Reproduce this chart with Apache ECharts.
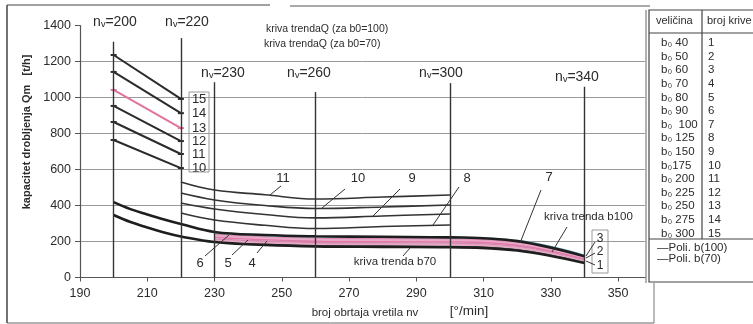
<!DOCTYPE html>
<html>
<head>
<meta charset="utf-8">
<script src="https://cdn.jsdelivr.net/npm/echarts@6/dist/echarts.min.js"></script>
<style>
  html, body { margin: 0; padding: 0; background: #fff; }
  #chart { width: 753px; height: 324px; }
</style>
</head>
<body>
<div id="chart"></div>
<script>
// --- data ---
const nvLeft = [200, 220]
const q15 = [1236, 992]
const q14 = [1142, 913]
const q13 = [1042, 830]
const q12 = [953, 758]
const q11a = [864, 686]
const q10a = [764, 608]

const nvMid = [220, 230, 245, 260, 280, 300]
const q11 = [531, 486, 460, 436, 447, 458]
const q10 = [469, 431, 400, 383, 392, 403]
const q9 = [414, 381, 350, 331, 342, 353]
const q8 = [358, 319, 290, 272, 283, 292]

const nvTrend = [200, 205, 210, 215, 220, 230, 245, 260, 280, 300, 320, 340]
const trendB100 = [419, 380, 350, 322, 297, 253, 236, 229, 226, 223, 202, 118]
const trendB70 = [347, 308, 278, 250, 228, 197, 181, 173, 170, 168, 150, 80]

const nvBand = [230, 260, 300, 320, 340]
const q7 = [248, 226, 222, 205, 124]
const q6 = [240, 219, 215, 197, 117]
const q5 = [232, 211, 207, 189, 111]
const q4 = [223, 203, 199, 181, 105]
const q3 = [214, 195, 191, 173, 99]
const q2 = [206, 187, 183, 165, 92]
const q1 = [198, 179, 175, 157, 86]

const nvLines = [200, 220, 230, 260, 300, 340]
const nvLineTop = [1310, 1330, 1085, 1030, 1080, 1060]

const tableB = ['b₀ 40', 'b₀ 50', 'b₀ 60', 'b₀ 70', 'b₀ 80', 'b₀ 90', 'b₀  100', 'b₀ 125',
  'b₀ 150', 'b₀175', 'b₀ 200', 'b₀ 225', 'b₀ 250', 'b₀ 275', 'b₀ 300']
const tableCurve = ['1', '2', '3', '4', '5', '6', '7', '8', '9', '10', '11', '12', '13', '14', '15']

const FONT = 'Liberation Sans, Arial, DejaVu Sans, sans-serif'
const INK = '#2b2b2b'

const pairs = (xs, ys) => xs.map((x, i) => [x, ys[i]])

const line = (xs, ys, color, width, extra) => Object.assign({
  type: 'line',
  data: pairs(xs, ys),
  smooth: 0.4,
  showSymbol: false,
  lineStyle: { color: color, width: width },
  itemStyle: { color: color },
  z: 3
}, extra || {})

const endTag = (txt) => ({
  showSymbol: true,
  symbol: 'rect',
  symbolSize: [6, 2],
  smooth: false,
  endLabel: { show: true, formatter: txt, color: INK, fontFamily: FONT, fontSize: 13, distance: 11 }
})

const series = [
  line(nvLeft, q15, INK, 2, endTag('15')),
  line(nvLeft, q14, INK, 2, endTag('14')),
  line(nvLeft, q13, '#e0739f', 2, endTag('13')),
  line(nvLeft, q12, INK, 2, endTag('12')),
  line(nvLeft, q11a, INK, 2, endTag('11')),
  line(nvLeft, q10a, INK, 2, endTag('10')),
  line(nvMid, q11, '#333', 1.6),
  line(nvMid, q10, '#333', 1.6),
  line(nvMid, q9, '#333', 1.6),
  line(nvMid, q8, '#333', 1.6),
  line(nvBand, q1, '#666', 1.3),
  line(nvBand, q2, '#e8a6c4', 2),
  line(nvBand, q3, '#d08cb0', 1.5),
  line(nvBand, q4, '#e27aa8', 2),
  line(nvBand, q5, '#eaa9c8', 2),
  line(nvBand, q6, '#d98cb3', 1.5),
  line(nvBand, q7, '#86c5da', 1.6),
  line(nvTrend, trendB100, '#1e1e1e', 2.6),
  line(nvTrend, trendB70, '#1e1e1e', 2.6),
  {
    type: 'line',
    data: [],
    markLine: {
      silent: true,
      symbol: 'none',
      label: { show: false },
      lineStyle: { color: '#333', width: 1.4, type: 'solid' },
      data: nvLines.map((nv, i) => [{ coord: [nv, 0] }, { coord: [nv, nvLineTop[i]] }])
    }
  }
]

const txt = (x, y, text, size, extra) => ({
  type: 'text', x: x, y: y, z: 10,
  style: Object.assign({ text: text, fill: INK, font: size + 'px ' + FONT, align: 'center', verticalAlign: 'middle' }, extra || {})
})
const seg = (x1, y1, x2, y2, color, w) => ({
  type: 'line', z: 10, shape: { x1: x1, y1: y1, x2: x2, y2: y2 },
  style: { stroke: color || '#333', lineWidth: w || 1 }
})

const graphics = [
  // outer frame
  seg(7, 5, 7, 323, '#444', 1.5),
  seg(7, 5, 270, 5, '#444', 1.2),
  seg(290, 6, 650, 6, '#555', 1),
  seg(7, 323, 654, 323, '#666', 1),
  seg(654, 283, 654, 323, '#777', 1),
  // nv labels
  txt(115, 22, 'nᵥ=200', 14),
  txt(187, 22, 'nᵥ=220', 14),
  txt(223, 73, 'nᵥ=230', 14),
  txt(309, 73, 'nᵥ=260', 14),
  txt(441, 73, 'nᵥ=300', 14),
  txt(577, 77, 'nᵥ=340', 14),
  // trend legend
  txt(266, 29, 'kriva trendaQ (za b0=100)', 10.5, { align: 'left' }),
  txt(264, 44, 'kriva trendaQ (za b0=70)', 10.5, { align: 'left' }),
  // axis names
  {
    type: 'text', x: 27, y: 132, rotation: Math.PI / 2, z: 10,
    style: { text: 'kapacitet drobljenja Qm   [t/h]', fill: INK, font: 'bold 11px ' + FONT, align: 'center', verticalAlign: 'middle' }
  },
  txt(365, 313, 'broj obrtaja vretila nv', 11.5),
  txt(469, 311, '[°/min]', 13.5),
  // box around 10-15
  { type: 'rect', z: 9, shape: { x: 189, y: 92, width: 20, height: 80 }, style: { fill: 'none', stroke: '#999', lineWidth: 1 } },
  // curve labels + leaders
  txt(283, 178, '11', 13), seg(270, 195, 281, 186),
  txt(358, 178, '10', 13), seg(322, 208, 345, 189),
  txt(412, 178, '9', 13), seg(372, 217, 400, 189),
  txt(467, 178, '8', 13), seg(433, 225, 459, 187),
  txt(549, 177, '7', 13), seg(520, 243, 541, 190),
  txt(544, 217, 'kriva trenda b100', 11.5, { align: 'left' }), seg(552, 252, 567, 227),
  txt(395, 262, 'kriva trenda b70', 11.5), seg(410, 248, 403, 256),
  txt(200, 263, '6', 13), seg(205, 256, 229, 235),
  txt(228, 263, '5', 13), seg(232, 255, 248, 240),
  txt(252, 263, '4', 13), seg(257, 253, 267, 241),
  { type: 'rect', z: 9, shape: { x: 592, y: 230, width: 16, height: 43 }, style: { fill: 'none', stroke: '#999', lineWidth: 1 } },
  txt(600, 239, '3', 12), seg(586, 256, 595, 242),
  txt(600, 252, '2', 12), seg(586, 258, 595, 253),
  txt(600, 266, '1', 12), seg(586, 261, 595, 265),
  // table
  { type: 'rect', z: 9, shape: { x: 649, y: 10, width: 120, height: 272 }, style: { fill: '#fff', stroke: '#444', lineWidth: 1.2 } },
  seg(646, 10, 646, 283, '#666', 1),
  seg(649, 33, 760, 33, '#444', 1.2),
  seg(702, 10, 702, 239, '#444', 1.2),
  seg(649, 239, 760, 239, '#444', 1.2),
  txt(656, 21, 'veličina', 11, { align: 'left' }),
  txt(707, 21, 'broj krive', 11, { align: 'left' })
]
tableB.forEach((b, i) => {
  const y = 43 + i * 13.6
  graphics.push(txt(661, y, b, 11.5, { align: 'left' }))
  graphics.push(txt(708, y, tableCurve[i], 11.5, { align: 'left' }))
})
graphics.push(txt(657, 248, '—Poli. b(100)', 11.5, { align: 'left' }))
graphics.push(txt(657, 259, '—Poli. b(70)', 11.5, { align: 'left' }))

const chart = echarts.init(document.getElementById('chart'), null, { renderer: 'canvas' })
chart.setOption({
  animation: false,
  backgroundColor: '#fff',
  textStyle: { fontFamily: FONT },
  grid: { left: 80, right: 108, top: 25.5, bottom: 46.5, containLabel: false },
  xAxis: {
    type: 'value',
    min: 190,
    max: 358,
    interval: 20,
    axisLine: { lineStyle: { color: '#555', width: 1.2 } },
    axisTick: { length: 4, lineStyle: { color: '#555' } },
    axisLabel: {
      color: INK, fontSize: 12.5, margin: 10, showMaxLabel: false,
      formatter: (v) => ((v - 190) % 20 === 0 && v <= 350 ? String(v) : '')
    },
    splitLine: { show: false }
  },
  yAxis: {
    type: 'value',
    min: 0,
    max: 1400,
    interval: 200,
    axisLine: { show: true, lineStyle: { color: '#555', width: 1.2 } },
    axisTick: { show: true, length: 5, lineStyle: { color: '#555' } },
    axisLabel: { color: INK, fontSize: 12.5, margin: 9, formatter: (v) => String(v) },
    splitLine: { show: true, showMaxLine: false, lineStyle: { color: '#9a9a9a', width: 1 } }
  },
  series: series,
  graphic: graphics
})
</script>
</body>
</html>
